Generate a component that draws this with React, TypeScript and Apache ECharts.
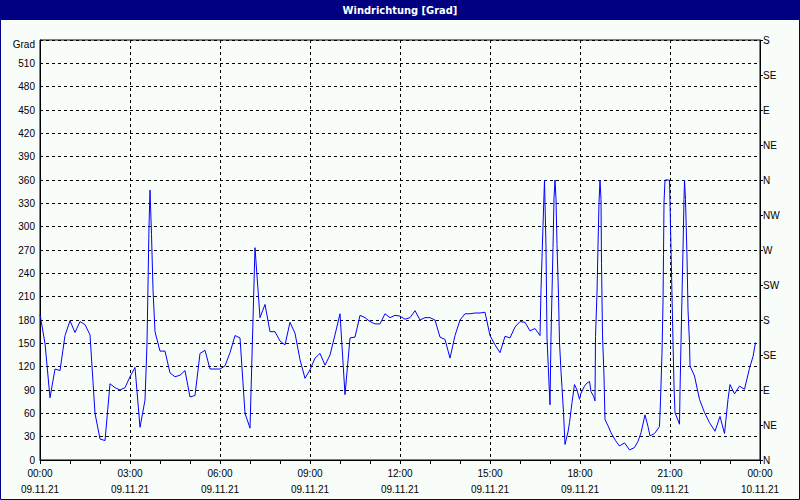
import React, { useEffect, useRef } from "react";
import * as echarts from "echarts";

// time in minutes after 09.11.21 00:00
const minutes: number[] = [
  0, 10, 20, 30, 40, 50, 60, 70, 80, 90, 100, 110, 120, 130, 140, 150, 160, 170, 180, 190,
  200, 210, 214, 218, 220, 223, 226, 230, 240, 250, 260, 270, 280, 290, 300, 310, 320, 330, 340, 350,
  360, 370, 380, 390, 400, 410, 420, 430, 440, 450, 460, 470, 480, 490, 500, 510, 520, 530, 540, 550,
  560, 570, 580, 590, 600, 610, 620, 630, 640, 650, 660, 670, 680, 690, 700, 710, 720, 730, 740, 750,
  760, 770, 780, 790, 800, 810, 820, 830, 840, 850, 860, 870, 880, 890, 900, 910, 920, 930, 940, 950,
  960, 970, 980, 990, 1000,
  1002, 1004, 1006, 1008, 1009, 1010, 1012, 1014, 1018, 1020, 1022, 1024, 1026, 1028, 1030, 1032, 1034, 1037, 1039, 1042,
  1044, 1047, 1050, 1056, 1059, 1064, 1069, 1074, 1079, 1082, 1089, 1094, 1099, 1102, 1107, 1110, 1111, 1114, 1116, 1118,
  1120, 1122, 1123, 1125, 1128, 1130, 1136, 1142, 1151, 1159, 1169, 1179, 1189, 1196, 1202, 1210, 1216, 1220, 1229, 1239,
  1241, 1244, 1246, 1247, 1248, 1250, 1259, 1260, 1262, 1264, 1268, 1270, 1279, 1280, 1282, 1284, 1286, 1288, 1289, 1291,
  1294, 1296, 1299, 1300, 1309, 1319, 1329, 1339, 1350, 1360, 1369, 1376, 1380, 1389, 1399, 1409, 1419, 1426, 1431,
];

// wind direction in degrees
const degrees: number[] = [
  187, 150, 80, 117, 115, 160, 179, 164, 178, 174, 161, 60, 27, 25, 98, 93, 90, 93, 107, 119,
  42, 77, 150, 300, 347, 290, 219, 165, 140, 140, 112, 107, 109, 115, 81, 83, 137, 141, 117, 117,
  117, 121, 138, 160, 157, 60, 41, 273, 183, 200, 165, 165, 153, 148, 177, 163, 129, 105, 116, 131,
  137, 122, 135, 161, 188, 84, 157, 158, 186, 183, 178, 175, 175, 188, 183, 186, 185, 181, 183, 192,
  180, 183, 183, 180, 158, 155, 131, 160, 180, 188, 188, 189, 189, 190, 160, 148, 138, 159, 157, 171,
  178, 177, 166, 169, 160,
  219, 260, 301, 341, 360, 360, 273, 157, 99, 71, 159, 215, 273, 337, 360, 335, 277, 211, 151, 114,
  93, 61, 20, 36, 48, 74, 97, 90, 78, 86, 95, 99, 101, 88, 82, 76, 159, 215, 275, 331,
  360, 335, 253, 161, 108, 52, 44, 35, 25, 18, 22, 13, 16, 24, 35, 58, 43, 31, 34, 43,
  76, 138, 202, 264, 331, 360, 360, 331, 271, 211, 95, 61, 46, 88, 151, 211, 271, 335, 360, 335,
  262, 193, 151, 121, 108, 78, 61, 48, 37, 56, 34, 78, 97, 85, 95, 91, 118, 133, 151,
];

const compassLabels: string[] = ["N", "NE", "E", "SE", "S", "SW", "W", "NW", "N", "NE", "E", "SE", "S"];
const dateLabels: string[] = ["09.11.21", "10.11.21"];
const titleText = "Windrichtung [Grad]";
const unitLabel = "Grad";

const FONT = "Liberation Sans, Arial, sans-serif";

export default function App() {
  const ref = useRef<HTMLDivElement>(null);

  useEffect(() => {
    if (!ref.current) return;
    const chart = echarts.init(ref.current, null, { renderer: "svg" });
    const seriesData = minutes.map((m, i) => [m, degrees[i]]);
    const pad = (n: number) => (n < 10 ? "0" + n : "" + n);

    chart.setOption({
      animation: false,
      backgroundColor: "#f9fdf9",
      graphic: [
        { type: "rect", shape: { x: 0, y: 0, width: 800, height: 20 }, style: { fill: "#000080" }, silent: true },
        {
          type: "text",
          x: 400,
          y: 10,
          style: {
            text: titleText,
            fill: "#ffffff",
            font: "bold 11px 'Liberation Sans Narrow', 'DejaVu Sans Condensed', 'Liberation Sans', sans-serif",
            align: "center",
            verticalAlign: "middle",
          },
          silent: true,
        },
        {
          type: "rect",
          shape: { x: 0.5, y: 0.5, width: 799, height: 499 },
          style: { fill: "none", stroke: "#000080", lineWidth: 1 },
          silent: true,
        },
      ],
      grid: { left: 40, right: 40, top: 40, bottom: 40, show: true, borderColor: "#000", borderWidth: 1, backgroundColor: "transparent" },
      xAxis: {
        type: "value",
        min: 0,
        max: 1440,
        interval: 180,
        axisLine: { show: true, lineStyle: { color: "#000", width: 1 } },
        axisTick: { show: true, length: 4, lineStyle: { color: "#000" } },
        minorTick: { show: true, splitNumber: 3, length: 4, lineStyle: { color: "#000" } },
        splitLine: { show: true, lineStyle: { color: "#000", type: [3, 3], width: 1 } },
        axisLabel: {
          margin: 5,
          color: "#000",
          fontFamily: FONT,
          fontSize: 10,
          lineHeight: 16,
          formatter: (v: number) => {
            const h = Math.round(v / 60) % 24;
            const d = v >= 1440 ? dateLabels[1] : dateLabels[0];
            return pad(h) + ":00\n" + d;
          },
        },
      },
      yAxis: [
        {
          type: "value",
          min: 0,
          max: 540,
          interval: 30,
          axisLine: { show: true, lineStyle: { color: "#000", width: 1 } },
          axisTick: { show: false },
          splitLine: { show: true, lineStyle: { color: "#000", type: [3, 3], width: 1 } },
          axisLabel: {
            margin: 5,
            color: "#000",
            fontFamily: FONT,
            fontSize: 10,
            formatter: (v: number) => (v === 540 ? "{g|" + unitLabel + "}" : String(v)),
            rich: {
              g: { fontFamily: FONT, fontSize: 10, color: "#000", padding: [9, 0, 0, 0] },
            },
          },
        },
        {
          type: "value",
          position: "right",
          min: 0,
          max: 540,
          interval: 45,
          axisLine: { show: true, lineStyle: { color: "#000", width: 1 } },
          axisTick: { show: true, length: 3, lineStyle: { color: "#000" } },
          splitLine: { show: false },
          axisLabel: {
            margin: 3,
            color: "#000",
            fontFamily: FONT,
            fontSize: 10,
            formatter: (v: number) => compassLabels[Math.round(v / 45)] ?? "",
          },
        },
      ],
      series: [
        {
          type: "line",
          yAxisIndex: 0,
          data: seriesData,
          showSymbol: false,
          symbol: "none",
          lineStyle: { color: "#0000ff", width: 1 },
          itemStyle: { color: "#0000ff" },
        },
      ],
    });

    return () => chart.dispose();
  }, []);

  return <div ref={ref} style={{ position: "absolute", left: 0, top: 0, width: 800, height: 500 }} />;
}
